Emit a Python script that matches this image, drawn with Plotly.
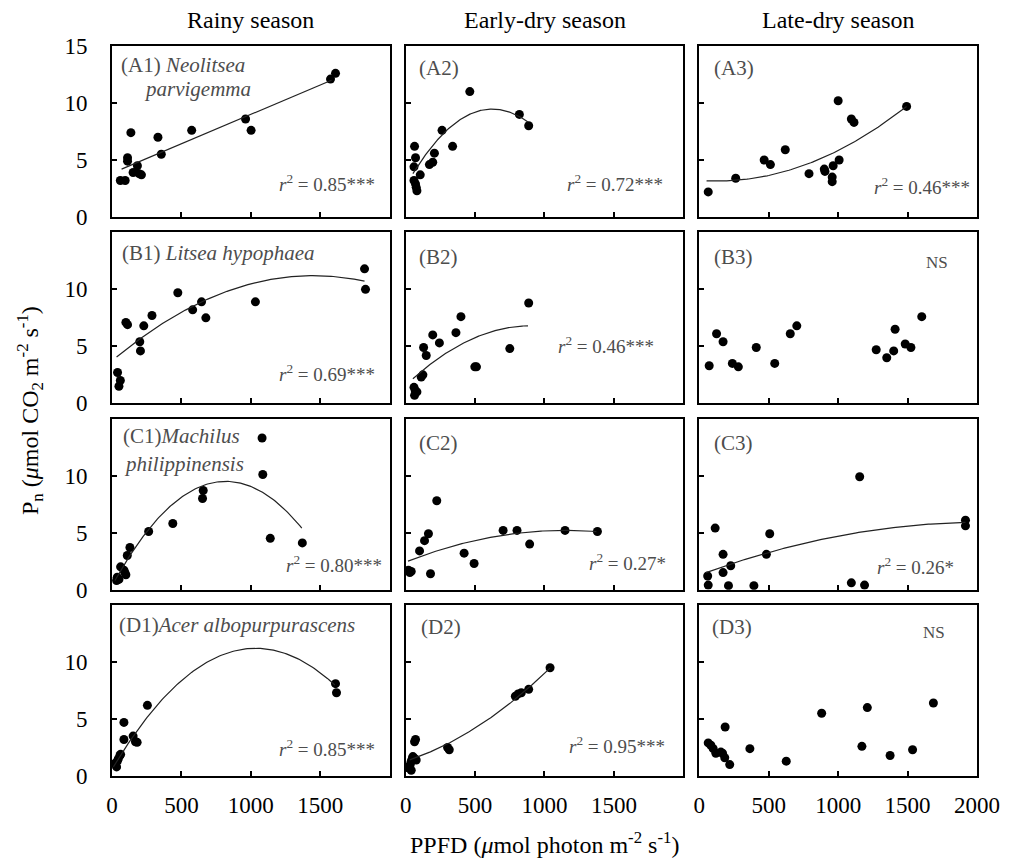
import numpy as np
import plotly.graph_objects as go
from plotly.subplots import make_subplots

# ---- measured photosynthesis (Pn) vs PPFD, per species (rows) and season (cols) ----
a1_ppfd = [60, 95, 112, 112, 136, 152, 183, 195, 212, 331, 355, 574, 962, 1002, 1574, 1610]
a1_pn = [3.2, 3.2, 5.2, 4.9, 7.4, 3.9, 4.5, 3.8, 3.7, 7.0, 5.5, 7.6, 8.6, 7.6, 12.1, 12.6]
a2_ppfd = [64, 71, 60, 60, 71, 76, 81, 105, 171, 195, 207, 262, 338, 462, 819, 886]
a2_pn = [6.2, 5.2, 4.4, 3.2, 2.9, 2.6, 2.3, 3.7, 4.6, 4.8, 5.6, 7.6, 6.2, 11.0, 9.0, 8.0]
a3_ppfd = [64, 262, 467, 512, 619, 790, 900, 905, 964, 957, 957, 1007, 1000, 1095, 1114, 1493]
a3_pn = [2.2, 3.4, 5.0, 4.6, 5.9, 3.8, 4.2, 4.0, 4.5, 3.5, 3.1, 5.0, 10.2, 8.6, 8.3, 9.7]

b1_ppfd = [40, 60, 50, 100, 112, 200, 205, 229, 288, 474, 581, 645, 676, 1033, 1819, 1826]
b1_pn = [2.7, 2.0, 1.5, 7.1, 6.9, 5.4, 4.6, 6.8, 7.7, 9.7, 8.2, 8.9, 7.5, 8.9, 11.8, 10.0]
b2_ppfd = [60, 69, 81, 64, 112, 124, 129, 148, 195, 243, 362, 398, 498, 510, 750, 886]
b2_pn = [1.4, 1.1, 1.0, 0.7, 2.3, 2.5, 4.9, 4.2, 6.0, 5.3, 6.2, 7.6, 3.2, 3.2, 4.8, 8.8]
b3_ppfd = [71, 124, 171, 238, 281, 410, 543, 655, 702, 1274, 1350, 1400, 1410, 1483, 1524, 1602]
b3_pn = [3.3, 6.1, 5.4, 3.5, 3.2, 4.9, 3.5, 6.1, 6.8, 4.7, 4.0, 4.6, 6.5, 5.2, 4.9, 7.6]

c1_ppfd = [33, 50, 38, 62, 86, 100, 93, 110, 129, 264, 438, 657, 652, 1081, 1086, 1140, 1371]
c1_pn = [0.8, 0.9, 1.1, 2.0, 1.7, 1.3, 1.5, 3.0, 3.7, 5.1, 5.8, 8.7, 8.0, 13.3, 10.1, 4.5, 4.1]
c2_ppfd = [20, 30, 40, 100, 136, 164, 179, 224, 421, 493, 702, 802, 893, 1148, 1381]
c2_pn = [1.7, 1.5, 1.6, 3.4, 4.3, 4.9, 1.4, 7.8, 3.2, 2.3, 5.2, 5.2, 4.0, 5.2, 5.1]
c3_ppfd = [60, 64, 114, 171, 171, 210, 226, 393, 483, 507, 1095, 1190, 1155, 1917, 1917]
c3_pn = [1.2, 0.4, 5.4, 3.1, 1.5, 0.35, 2.1, 0.35, 3.1, 4.9, 0.6, 0.4, 9.9, 6.1, 5.6]

d1_ppfd = [33, 21, 38, 45, 57, 62, 86, 86, 152, 169, 181, 255, 1610, 1617]
d1_pn = [0.8, 1.1, 1.3, 1.5, 1.8, 1.9, 4.7, 3.2, 3.5, 3.0, 2.95, 6.2, 8.1, 7.3]
d2_ppfd = [24, 33, 40, 48, 52, 64, 76, 40, 64, 71, 302, 314, 790, 810, 833, 886, 1040]
d2_pn = [0.7, 1.0, 1.3, 1.55, 1.7, 1.55, 1.4, 0.5, 3.0, 3.2, 2.5, 2.3, 7.0, 7.2, 7.3, 7.6, 9.5]
d3_ppfd = [64, 83, 100, 119, 155, 167, 183, 186, 219, 364, 626, 881, 1171, 1210, 1374, 1536, 1686]
d3_pn = [2.9, 2.7, 2.4, 2.0, 2.1, 2.0, 1.6, 4.3, 1.0, 2.4, 1.3, 5.5, 2.6, 6.0, 1.8, 2.3, 6.4]

# ---- regression curves: polynomial coefficients [c0, c1, c2] and fitted PPFD span ----
a1_fit, a1_span = [3.84, 0.00516, 0.0], [69, 1581]
a2_fit, a2_span = [2.722, 0.021628, -1.733e-5], [52, 881]
a3_fit, a3_span = [3.2, -8.6e-4, 3.492e-6], [52, 1493]
b1_fit, b1_span = [3.724, 0.010312, -3.556e-6], [33, 1819]
b2_fit, b2_span = [1.5755, 0.01161, -6.45e-6], [52, 881]
c1_fit, c1_span = [0.337, 0.022375, -1.366e-5], [21, 1367]
c2_fit, c2_span = [2.423, 0.00483, -2.1e-6], [17, 1374]
c3_fit, c3_span = [1.286, 0.004512, -1.098e-6], [48, 1917]
d1_fit, d1_span = [0.595, 0.020493, -9.9e-6], [10, 1605]
d2_fit, d2_span = [1.3, 0.0039, 3.8e-6], [29, 1040]

seasons = ["Rainy season", "Early-dry season", "Late-dry season"]
r2_labels = {
    "a1": "0.85***", "a2": "0.72***", "a3": "0.46***",
    "b1": "0.69***", "b2": "0.46***",
    "c1": "0.80***", "c2": "0.27*", "c3": "0.26*",
    "d1": "0.85***", "d2": "0.95***",
}

panels = [
    [(a1_ppfd, a1_pn, a1_fit, a1_span), (a2_ppfd, a2_pn, a2_fit, a2_span), (a3_ppfd, a3_pn, a3_fit, a3_span)],
    [(b1_ppfd, b1_pn, b1_fit, b1_span), (b2_ppfd, b2_pn, b2_fit, b2_span), (b3_ppfd, b3_pn, None, None)],
    [(c1_ppfd, c1_pn, c1_fit, c1_span), (c2_ppfd, c2_pn, c2_fit, c2_span), (c3_ppfd, c3_pn, c3_fit, c3_span)],
    [(d1_ppfd, d1_pn, d1_fit, d1_span), (d2_ppfd, d2_pn, d2_fit, d2_span), (d3_ppfd, d3_pn, None, None)],
]

FONT = "'Liberation Serif', 'Times New Roman', 'DejaVu Serif', serif"
GREY = "#4d4d4d"

fig = make_subplots(rows=4, cols=3, horizontal_spacing=0.0185, vertical_spacing=0.021)

for r, row in enumerate(panels, start=1):
    for c, (px, py, fit, span) in enumerate(row, start=1):
        fig.add_trace(go.Scatter(x=px, y=py, mode="markers",
                                 marker=dict(size=9, color="black"),
                                 showlegend=False), row=r, col=c)
        if fit is not None:
            xs = np.linspace(span[0], span[1], 120)
            ys = fit[0] + fit[1] * xs + fit[2] * xs ** 2
            fig.add_trace(go.Scatter(x=xs, y=ys, mode="lines",
                                     line=dict(color="#222222", width=1.2),
                                     showlegend=False), row=r, col=c)


def axis_ref(r, c):
    n = (r - 1) * 3 + c
    return ("x" if n == 1 else f"x{n}"), ("y" if n == 1 else f"y{n}")


def note(r, c, text, x, y, size, xanchor="left", yanchor="middle", color=GREY):
    xr, yr = axis_ref(r, c)
    fig.add_annotation(text=text, x=x, y=y, xref=f"{xr} domain", yref=f"{yr} domain",
                       xanchor=xanchor, yanchor=yanchor, showarrow=False,
                       font=dict(family=FONT, size=size, color=color))


# panel tags and species names
LBL = 21
note(1, 1, "(A1) <i>Neolitsea</i>", 0.026, 0.889, LBL)
note(1, 1, "<i>parvigemma</i>", 0.108, 0.75, LBL)
note(1, 2, "(A2)", 0.040, 0.87, LBL)
note(1, 3, "(A3)", 0.044, 0.87, LBL)
note(2, 1, "(B1) <i>Litsea hypophaea</i>", 0.029, 0.877, LBL)
note(2, 2, "(B2)", 0.040, 0.855, LBL)
note(2, 3, "(B3)", 0.047, 0.855, LBL)
note(3, 1, "(C1)<i>Machilus</i>", 0.033, 0.90, LBL)
note(3, 1, "<i>philippinensis</i>", 0.037, 0.737, LBL)
note(3, 2, "(C2)", 0.040, 0.855, LBL)
note(3, 3, "(C3)", 0.044, 0.855, LBL)
note(4, 1, "(D1)<i>Acer albopurpurascens</i>", 0.019, 0.883, LBL)
note(4, 2, "(D2)", 0.047, 0.87, LBL)
note(4, 3, "(D3)", 0.040, 0.87, LBL)

# goodness of fit
r2_pos = {
    "a1": (1, 1, 0.953, 0.20), "a2": (1, 2, 0.935, 0.20), "a3": (1, 3, 0.982, 0.18),
    "b1": (2, 1, 0.953, 0.18), "b2": (2, 2, 0.903, 0.34),
    "c1": (3, 1, 0.98, 0.15), "c2": (3, 2, 0.946, 0.16), "c3": (3, 3, 0.924, 0.14),
    "d1": (4, 1, 0.953, 0.164), "d2": (4, 2, 0.94, 0.18),
}
for key, (r, c, x, y) in r2_pos.items():
    note(r, c, f"<i>r</i><sup>2</sup> = {r2_labels[key]}", x, y, 19, xanchor="right")
note(2, 3, "NS", 0.856, 0.825, 17, xanchor="center")
note(4, 3, "NS", 0.845, 0.84, 17, xanchor="center")

# season headers
for c, s in enumerate(seasons, start=1):
    xr, _ = axis_ref(1, c)
    fig.add_annotation(text=s, x=0.5, y=1.0, xref=f"{xr} domain", yref="paper",
                       yshift=26, xanchor="center", yanchor="middle", showarrow=False,
                       font=dict(family=FONT, size=24, color="black"))

# shared axis titles
fig.add_annotation(text="PPFD (<i>μ</i>mol photon m<sup>-2</sup> s<sup>-1</sup>)",
                   x=0.5, y=0, xref="paper", yref="paper", yshift=-67,
                   xanchor="center", yanchor="middle", showarrow=False,
                   font=dict(family=FONT, size=24, color="black"))
fig.add_annotation(text="P<sub>n</sub> (<i>μ</i>mol CO<sub>2</sub> m<sup>-2</sup> s<sup>-1</sup>)",
                   x=0, y=0.5, xref="paper", yref="paper", xshift=-82,
                   xanchor="center", yanchor="middle", textangle=-90, showarrow=False,
                   font=dict(family=FONT, size=24, color="black"))

for r in range(1, 5):
    for c in range(1, 4):
        xticks = [0, 500, 1000, 1500, 2000] if c == 3 else [0, 500, 1000, 1500]
        fig.update_xaxes(range=[0, 2000], tickvals=[0, 500, 1000, 1500, 2000],
                         ticktext=[str(v) if v in xticks else "" for v in [0, 500, 1000, 1500, 2000]],
                         showticklabels=(r == 4), ticks="inside", ticklen=5, tickwidth=1.5,
                         tickcolor="black", showline=True, linecolor="black", linewidth=2,
                         mirror=True, showgrid=False, zeroline=False, ticklabelstandoff=7,
                         tickfont=dict(family=FONT, size=23, color="black"), row=r, col=c)
        yvals = [0, 5, 10, 15] if r == 1 else [0, 5, 10]
        fig.update_yaxes(range=[0, 15], tickvals=[0, 5, 10, 15],
                         ticktext=[str(v) if v in yvals else "" for v in [0, 5, 10, 15]],
                         showticklabels=(c == 1), ticks="inside", ticklen=5, tickwidth=1.5,
                         tickcolor="black", showline=True, linecolor="black", linewidth=2,
                         mirror=True, showgrid=False, zeroline=False, ticklabelstandoff=18,
                         tickfont=dict(family=FONT, size=23, color="black"), row=r, col=c)

fig.update_layout(width=1012, height=863, margin=dict(l=112, r=33, t=46, b=87),
                  plot_bgcolor="white", paper_bgcolor="white",
                  font=dict(family=FONT, color="black"))

fig.write_html("out.html")
